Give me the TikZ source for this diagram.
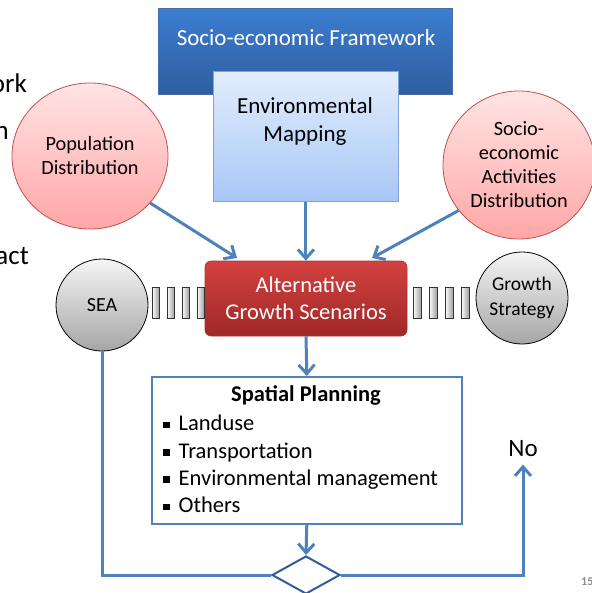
\documentclass[tikz,border=0pt]{standalone}
\usepackage{fontspec}
\setmainfont{Carlito}
\usetikzlibrary{shapes.geometric,arrows.meta,calc}
\definecolor{conn}{HTML}{4F81BD}
\definecolor{dkblue}{HTML}{2F5E9A}
\tikzset{
  link/.style={draw=conn,line width=3pt,-{Straight Barb[length=9pt,width=16pt,line width=3pt]}},
  plain/.style={draw=conn,line width=3pt},
  pinkball/.style={ellipse,draw={rgb,255:red,192;green,80;blue,77},line width=0.8pt,
     top color={rgb,255:red,255;green,228;blue,228},bottom color={rgb,255:red,255;green,166;blue,166},
     align=center,font=\fontsize{20.3}{24}\selectfont,inner sep=0pt},
  grayball/.style={circle,draw=black,line width=0.8pt,
     top color={rgb,255:red,245;green,245;blue,245},bottom color={rgb,255:red,166;green,166;blue,166},
     align=center,font=\fontsize{20}{25}\selectfont,inner sep=0pt,minimum size=92pt},
  barbox/.style={draw=black!80,line width=0.8pt,left color=white,right color=black!40},
}
\begin{document}
\begin{tikzpicture}[x=1pt,y=-1pt]
\useasboundingbox (0,0) rectangle (591,593);
% left cut-off text
\node[anchor=east,inner sep=0pt,font=\fontsize{27}{30}\selectfont] (t1) at (27,83) {ork};
\node[anchor=east,inner sep=0pt,font=\fontsize{27}{30}\selectfont] (t2) at (9,133) {n};
\node[anchor=east,inner sep=0pt,font=\fontsize{27}{30}\selectfont] (t3) at (29,256) {act};
\node[anchor=west,inner sep=0pt,text=black!45,font=\bfseries\fontsize{12}{14}\selectfont] (pg) at (581,582) {15};
% top framework
\node[draw={rgb,255:red,70;green,110;blue,170},line width=0.6pt,minimum width=294pt,minimum height=86pt,
  top color={rgb,255:red,60;green,125;blue,208},bottom color={rgb,255:red,46;green,94;blue,160},
  anchor=north west,inner sep=0pt] (frame) at (158,8) {};
\node[text=white,font=\fontsize{23}{25}\selectfont] (frametxt) at (306,38) {Socio-economic Framework};
\node[draw={rgb,255:red,125;green,165;blue,215},line width=0.8pt,minimum width=185pt,minimum height=130pt,
  top color={rgb,255:red,226;green,237;blue,253},bottom color={rgb,255:red,168;green,199;blue,246},
  anchor=north west,inner sep=0pt] (env) at (213,71) {};
\node[align=center,font=\fontsize{23}{28}\selectfont] (envtxt) at (305,121) {Environmental\\Mapping};
% circles
\node[pinkball,minimum width=156pt,minimum height=146pt] (pop) at (90,156) {Population\\Distribution};
\node[pinkball,minimum width=152pt,minimum height=148pt] (soc) at (519,165) {Socio-\\economic\\Activities\\Distribution};
% scenarios
\node[draw={rgb,255:red,170;green,50;blue,50},line width=0.6pt,rounded corners=6pt,minimum width=202pt,minimum height=75pt,
  top color={rgb,255:red,210;green,66;blue,64},bottom color={rgb,255:red,160;green,40;blue,40},
  text=white,align=center,font=\fontsize{22.5}{27}\selectfont,inner sep=0pt] (alt) at (306,298.5) {Alternative\\Growth Scenarios};
\node[grayball] (sea) at (102,305) {SEA};
\node[grayball,font=\fontsize{19.5}{25}\selectfont] (gs) at (522,298) {Growth\\Strategy};
% bars
\foreach \x in {152,167,182,197}{\draw[barbox] (\x,287) rectangle ++(7.5,31);}
\foreach \x in {413,429,445,461}{\draw[barbox] (\x,287) rectangle ++(8.5,31);}
% arrows into scenarios
\draw[link] (pop.-38) -- (237,258);
\draw[link] (env.south) -- (env.south |- alt.north);
\draw[link] (soc.-143) -- (372,258);
% spatial planning
\node[draw=conn,line width=1.6pt,fill=white,minimum width=310pt,minimum height=147pt,anchor=north west,inner sep=0pt] (sp) at (151,376) {};
\node[font=\bfseries\fontsize{22.5}{24}\selectfont] (sptitle) at (306,395) {Spatial Planning};
\node[anchor=west,align=left,font=\fontsize{22.5}{27.3}\selectfont,inner sep=0pt] (items) at (163,464)
  {\rule[2.5pt]{6.5pt}{6.5pt}\hspace{9pt}Landuse\\
   \rule[2.5pt]{6.5pt}{6.5pt}\hspace{9pt}Transportation\\
   \rule[2.5pt]{6.5pt}{6.5pt}\hspace{9pt}Environmental management\\
   \rule[2.5pt]{6.5pt}{6.5pt}\hspace{9pt}Others};
\draw[link] (alt.south) -- (sp.north);
% decision
\node[diamond,draw=dkblue,line width=2pt,fill=white,minimum width=68pt,minimum height=38pt,inner sep=0pt,aspect=1.8] (dia) at (306,575) {};
\draw[link] (sp.south) -- (dia.north);
\node[font=\fontsize{25}{28}\selectfont] (no) at (523,449) {No};
\draw[plain] (sea.south) -- (sea.south |- dia.west) -- (dia.west);
\draw[link] (dia.east) -| ($(no.south)+(0,4)$);
\end{tikzpicture}
\end{document}
